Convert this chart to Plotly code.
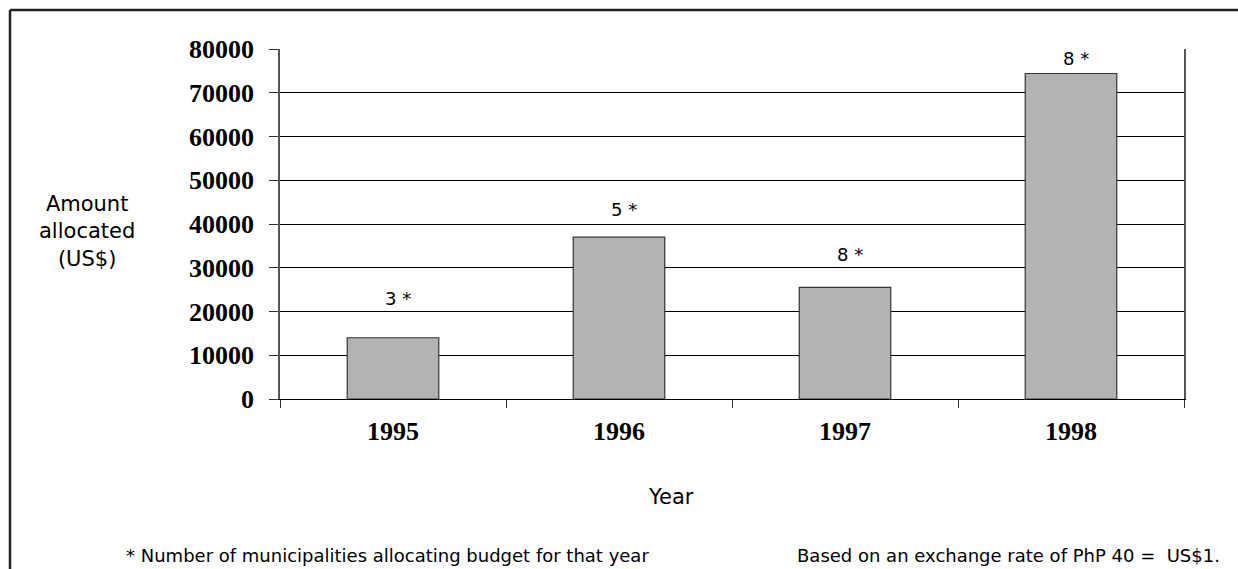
import plotly.graph_objects as go

years = ["1995", "1996", "1997", "1998"]
amounts = [14000, 37000, 25500, 74400]
municipalities = [3, 5, 8, 8]
label_offsets = [29, 17, 22, 5]  # px gap between bar top and label

y_ticks = [0, 10000, 20000, 30000, 40000, 50000, 60000, 70000, 80000]

W, H = 1238, 569
L, R, T, B = 280, 1184, 49, 399

SANS = "DejaVu Sans, Arial, Liberation Sans"
SERIF = "Times New Roman, Liberation Serif"

def px(x):
    return (x - L) / (R - L)

def py(y):
    return (B - y) / (B - T)

fig = go.Figure()
fig.add_trace(go.Bar(
    x=years, y=amounts,
    marker=dict(color="#b3b3b3", line=dict(color="#333333", width=1.2)),
    width=0.405,
    hoverinfo="skip",
))

annotations = []
for i, (amt, m, off) in enumerate(zip(amounts, municipalities, label_offsets)):
    annotations.append(dict(
        x=i, y=amt, xref="x", yref="y", text=f"{m} *", showarrow=False,
        yanchor="bottom", yshift=off - 2, xshift=5,
        font=dict(family=SANS, size=18, color="black"),
    ))

annotations += [
    dict(x=px(87), y=py(231), xref="paper", yref="paper",
         text="Amount<br>allocated<br>(US$)", showarrow=False,
         font=dict(family=SANS, size=21, color="black"),
         align="center", xanchor="center", yanchor="middle"),
    dict(x=px(671), y=py(497), xref="paper", yref="paper", text="Year",
         showarrow=False,
         font=dict(family=SANS, size=21, color="black"),
         xanchor="center", yanchor="middle"),
    dict(x=px(124), y=py(555), xref="paper", yref="paper",
         text="* Number of municipalities allocating budget for that year",
         showarrow=False,
         font=dict(family=SANS, size=18, color="black"),
         xanchor="left", yanchor="middle"),
    dict(x=px(1222), y=py(555), xref="paper", yref="paper",
         text="Based on an exchange rate of PhP 40 =  US$1.",
         showarrow=False,
         font=dict(family=SANS, size=18, color="black"),
         xanchor="right", yanchor="middle"),
]

shapes = [
    dict(type="line", xref="paper", yref="paper", x0=px(10), x1=px(1250),
         y0=py(10), y1=py(10), line=dict(color="#222222", width=2.5)),
    dict(type="line", xref="paper", yref="paper", x0=px(10), x1=px(10),
         y0=py(10), y1=py(600), line=dict(color="#222222", width=2.5)),
]

fig.update_layout(
    width=W, height=H,
    margin=dict(l=L, r=W - R, t=T, b=H - B),
    paper_bgcolor="white", plot_bgcolor="white",
    showlegend=False,
    bargap=0.595,
    annotations=annotations,
    shapes=shapes,
    xaxis=dict(
        type="category", range=[-0.5, len(years) - 0.5],
        showgrid=False, showline=True, linecolor="black",
        linewidth=1.2, ticks="outside", tickson="boundaries", ticklen=8,
        tickcolor="#333333", ticklabelstandoff=9, tickangle=0,
        tickfont=dict(family=SERIF, size=26, color="black", weight="bold"),
    ),
    yaxis=dict(
        range=[0, 80000], tickvals=y_ticks,
        ticktext=[str(v) for v in y_ticks],
        showgrid=True, gridcolor="black", gridwidth=1.2,
        showline=True, linecolor="#555555", linewidth=1.5, mirror=True,
        ticks="outside", ticklen=9, tickcolor="#333333",
        ticklabelstandoff=10, zeroline=False,
        tickfont=dict(family=SERIF, size=26, color="black", weight="bold"),
    ),
)

fig.write_html("out.html")
